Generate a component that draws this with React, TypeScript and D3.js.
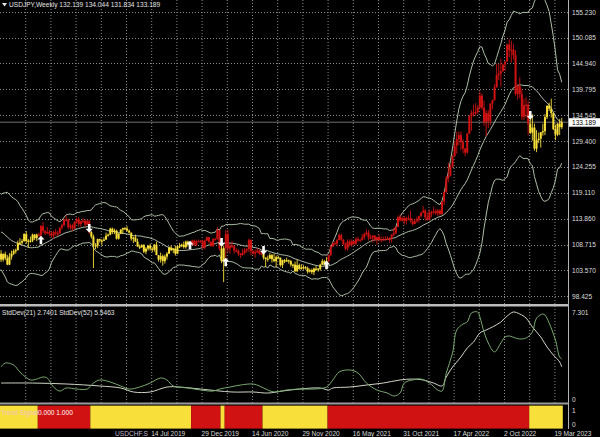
import React from 'react';
import * as d3 from 'd3';

// ---------------- DATA ----------------
// Weekly closes before the first visible bar (Oct 2017 – Feb 2018), used for the 21-period bands
const warmupCloses = [111.8, 113.5, 113.7, 114.1, 113.5, 112.1, 111.5, 112.2, 113.5, 112.6, 113.3, 112.7, 113.1, 111.0, 110.8, 108.6, 110.2, 108.8, 106.3, 106.9];

// First visible weekly bar: week of 25 Feb 2018; last: week of 9 Apr 2023
const firstWeek = '2018-02-25';
const firstOpen = 106.9;

const closes = [
  105.7, 106.8, 106.0, 104.7, 106.3, 106.9, 107.4, 107.6, 109.0, 109.1,
  109.4, 110.8, 109.4, 109.5, 109.5, 110.7, 110.0, 110.7, 110.5, 112.4,
  111.4, 111.0, 111.2, 110.9, 110.5, 111.2, 111.0, 111.0, 112.1, 112.6,
  113.7, 113.7, 112.2, 112.5, 111.9, 113.2, 113.8, 112.8, 113.4, 113.5,
  112.7, 113.4, 111.2, 110.3, 108.5, 108.5, 109.8, 109.5, 109.5, 109.7,
  110.5, 110.7, 111.9, 111.2, 111.5, 109.9, 110.9, 111.7, 112.0, 111.9,
  111.5, 111.1, 109.9, 110.1, 109.3, 108.3, 108.2, 108.6, 107.3, 107.9,
  108.5, 107.9, 107.7, 108.7, 106.6, 105.7, 106.4, 105.4, 106.3, 106.9,
  108.1, 107.6, 107.9, 106.9, 108.3, 108.4, 108.7, 108.2, 109.3, 108.8,
  108.7, 109.5, 108.6, 109.4, 109.4, 109.4, 108.1, 109.5, 110.2, 109.3,
  108.4, 109.8, 109.8, 111.6, 107.9, 105.4, 108.0, 110.8, 107.9, 108.5,
  108.5, 107.5, 107.5, 106.9, 106.6, 107.1, 107.6, 107.8, 109.6, 107.4,
  106.9, 107.2, 107.5, 106.9, 107.0, 106.1, 105.8, 105.9, 106.6, 105.8,
  105.4, 106.2, 106.1, 104.6, 105.6, 105.3, 105.6, 105.4, 104.7, 104.7,
  103.4, 104.6, 103.8, 104.1, 104.2, 104.0, 103.3, 103.6, 103.2, 103.9,
  103.9, 103.8, 104.7, 105.4, 104.9, 105.4, 106.6, 108.3, 109.0, 108.9,
  109.6, 110.6, 109.7, 108.8, 107.9, 109.3, 108.6, 109.4, 108.9, 109.8,
  109.5, 109.7, 110.2, 110.8, 111.1, 110.1, 110.1, 110.5, 109.7, 110.2,
  109.6, 109.8, 109.8, 109.7, 109.9, 109.9, 110.7, 111.0, 112.2, 114.2,
  113.5, 114.0, 113.4, 114.0, 114.0, 113.4, 112.8, 113.4, 113.7, 114.4,
  115.1, 115.5, 114.2, 113.7, 115.2, 115.2, 115.4, 115.0, 115.5, 114.8,
  117.3, 119.2, 122.0, 122.5, 124.3, 126.4, 128.5, 129.8, 130.6, 129.2,
  127.9, 127.1, 130.9, 134.4, 135.0, 135.2, 135.2, 136.1, 138.5, 136.1,
  133.2, 135.0, 133.4, 136.9, 137.6, 140.2, 142.6, 142.9, 143.4, 144.7,
  145.3, 148.7, 147.6, 147.7, 146.6, 138.8, 140.4, 138.8, 134.3, 136.6,
  136.7, 132.8, 131.1, 132.1, 127.9, 129.6, 129.9, 131.2, 131.4, 134.2,
  136.5, 135.9, 135.0, 131.8, 130.7, 132.9, 132.2, 133.189,
];

const highs = [
  107.6, 107.0, 107.3, 106.6, 107.0, 107.5, 107.8, 107.9, 109.5, 110.0,
  109.8, 111.0, 111.4, 109.8, 110.3, 110.9, 110.8, 110.9, 111.1, 112.6,
  113.2, 111.6, 112.2, 111.6, 111.4, 111.5, 111.8, 111.5, 112.2, 112.9,
  113.8, 114.6, 113.9, 112.9, 112.8, 113.4, 114.1, 114.2, 113.5, 114.0,
  113.8, 113.7, 113.7, 111.4, 110.7, 109.0, 109.9, 109.9, 109.8, 110.2,
  111.1, 110.9, 112.1, 112.1, 111.9, 111.7, 111.0, 111.8, 112.1, 112.2,
  112.4, 111.7, 111.1, 110.3, 110.7, 109.9, 108.7, 108.8, 108.8, 108.2,
  108.6, 108.9, 108.2, 108.8, 109.3, 106.6, 107.1, 106.7, 106.7, 107.2,
  108.3, 108.5, 108.0, 108.5, 108.6, 109.0, 108.9, 109.3, 109.5, 109.5,
  109.2, 109.7, 109.7, 109.7, 109.7, 109.6, 109.7, 109.7, 110.3, 110.2,
  109.3, 110.0, 110.1, 112.2, 111.6, 108.5, 108.5, 111.6, 111.7, 108.8,
  109.4, 108.4, 108.0, 107.7, 107.0, 107.8, 108.0, 108.0, 109.9, 109.8,
  107.6, 107.7, 108.0, 107.8, 107.4, 107.4, 106.2, 106.5, 107.0, 106.8,
  106.9, 106.5, 106.5, 106.1, 105.7, 105.8, 106.1, 105.7, 105.6, 104.9,
  105.3, 105.7, 104.9, 104.8, 104.6, 104.4, 104.3, 103.9, 103.9, 104.1,
  104.4, 104.0, 104.9, 105.8, 105.6, 106.2, 106.7, 108.6, 109.2, 109.4,
  109.9, 110.9, 110.9, 109.8, 109.1, 109.7, 109.7, 109.8, 109.5, 110.2,
  110.3, 109.8, 110.8, 111.1, 111.7, 111.6, 110.7, 110.6, 110.6, 110.3,
  110.8, 110.3, 110.3, 110.4, 110.4, 110.2, 110.8, 112.1, 112.3, 114.5,
  114.7, 114.3, 114.4, 114.3, 114.6, 115.5, 113.9, 113.9, 114.3, 114.5,
  115.2, 116.4, 115.8, 115.1, 115.7, 115.5, 116.3, 115.8, 115.8, 115.8,
  117.4, 119.4, 122.4, 125.1, 124.7, 126.7, 129.4, 131.3, 131.3, 131.3,
  129.8, 128.0, 131.0, 134.6, 135.6, 136.7, 137.0, 136.6, 139.4, 138.9,
  137.5, 135.6, 135.6, 137.0, 137.7, 140.8, 144.9, 144.9, 145.9, 144.9,
  145.4, 148.9, 149.8, 149.5, 148.8, 147.6, 140.8, 142.2, 139.9, 137.9,
  138.2, 137.5, 134.4, 134.8, 132.9, 131.6, 131.1, 131.2, 132.9, 134.8,
  136.5, 137.1, 137.9, 135.1, 132.7, 133.0, 133.8, 134.044,
];

const lows = [
  105.2, 105.3, 105.6, 104.6, 104.6, 105.7, 106.6, 106.9, 107.5, 108.6,
  108.7, 109.3, 108.9, 108.1, 109.1, 109.2, 109.6, 109.4, 110.3, 110.3,
  111.0, 110.6, 110.8, 110.4, 110.1, 109.8, 110.5, 110.4, 110.8, 111.7,
  112.4, 113.4, 111.8, 111.6, 111.4, 111.8, 112.9, 112.3, 112.3, 113.0,
  112.2, 112.6, 110.8, 109.9, 104.0, 107.8, 108.0, 109.1, 108.5, 109.4,
  109.7, 110.3, 110.6, 110.8, 110.8, 109.7, 109.7, 110.8, 110.8, 111.6,
  111.3, 110.9, 109.5, 109.0, 109.3, 108.3, 107.8, 108.0, 107.0, 106.8,
  107.5, 107.5, 107.2, 107.3, 106.6, 105.3, 105.1, 104.5, 104.9, 105.7,
  106.8, 107.4, 107.0, 106.5, 106.8, 108.0, 108.2, 107.9, 107.9, 108.3,
  108.2, 108.6, 108.4, 108.4, 109.2, 109.1, 107.9, 107.7, 109.4, 108.9,
  108.3, 108.3, 109.6, 109.7, 107.5, 105.0, 101.2, 105.1, 107.2, 106.9,
  108.0, 106.9, 107.2, 106.4, 106.0, 106.5, 106.7, 107.1, 107.2, 106.6,
  106.7, 106.1, 107.0, 106.6, 106.6, 105.7, 104.2, 105.3, 105.8, 105.1,
  105.2, 104.2, 105.8, 104.3, 104.0, 105.0, 105.3, 104.9, 104.3, 104.0,
  103.2, 103.2, 103.7, 103.7, 103.7, 103.7, 102.9, 103.1, 102.8, 102.6,
  103.5, 103.3, 103.5, 104.6, 104.5, 104.9, 105.2, 106.4, 108.2, 108.6,
  108.4, 109.6, 109.4, 108.6, 107.5, 107.5, 108.3, 108.3, 108.6, 108.6,
  109.3, 109.2, 109.5, 109.7, 110.5, 109.5, 109.8, 109.1, 109.4, 108.7,
  109.4, 109.1, 109.5, 109.6, 109.6, 109.1, 109.1, 110.4, 110.8, 112.2,
  113.4, 113.3, 112.7, 112.7, 113.6, 113.1, 112.5, 113.0, 113.1, 113.1,
  114.2, 115.0, 113.5, 113.5, 113.5, 114.2, 114.8, 114.6, 114.4, 114.6,
  114.7, 116.6, 119.0, 121.2, 122.3, 124.1, 126.4, 126.9, 128.6, 127.6,
  127.0, 126.4, 126.9, 130.8, 131.5, 134.3, 134.5, 134.8, 135.9, 135.6,
  132.5, 130.4, 132.0, 132.6, 135.8, 137.5, 140.1, 141.6, 140.3, 143.3,
  143.5, 145.3, 146.2, 145.1, 145.7, 138.5, 137.7, 138.0, 133.6, 133.6,
  134.0, 130.6, 130.8, 129.5, 127.5, 127.2, 129.0, 128.1, 130.5, 130.6,
  133.8, 135.4, 134.1, 131.6, 129.6, 130.4, 130.6, 131.834,
];

// Trend state (bar index where each colour segment starts)
const trendStarts = [0, 18, 43, 91, 105, 107, 125, 156, 252];
const trendStates = ['Y', 'R', 'Y', 'R', 'Y', 'R', 'Y', 'R', 'Y'];

// Signal arrows (bar index, direction, price level)
const arrowBars = [19, 42, 90, 105, 107, 125, 155, 252];
const arrowDirs = ['up', 'down', 'up', 'down', 'up', 'down', 'up', 'down'];
const arrowPrices = [109.6, 112.0, 108.6, 109.2, 105.2, 107.6, 104.6, 134.6];

// Price axis ticks
const priceTicks = [155.23, 150.085, 144.94, 139.795, 134.545, 129.4, 124.255, 119.11, 113.86, 108.715, 103.57, 98.425];
const lastPrice = 133.189;

// Time axis labels
const timeLabels = ['2019-07-14', '2019-12-29', '2020-06-14', '2020-11-29', '2021-05-16', '2021-10-31', '2022-04-17', '2022-10-02', '2023-03-19'];

// StdDev sub-window, bar index / value
const sdGreenIdx = [0, 2, 6, 9, 14, 17, 20, 22, 25, 28, 31, 36, 41, 44, 47, 52, 57, 61, 66, 71, 76, 79, 82, 89, 95, 101, 104, 109, 114, 120, 123, 127, 130, 136, 142, 149, 155, 158, 161, 166, 170, 174, 179, 184, 187, 190, 192, 196, 200, 204, 208, 210, 212, 215, 217, 220, 222, 224, 227, 228, 230, 232, 235, 238, 240, 242, 245, 247, 250, 253, 255, 258, 259, 261, 264, 266, 267];
const sdGreenVal = [2.63, 2.97, 2.8, 2.21, 1.53, 1.61, 1.78, 1.7, 0.93, 0.59, 0.85, 0.76, 0.76, 1.27, 1.53, 1.36, 1.02, 0.76, 0.93, 1.27, 1.7, 1.53, 1.02, 0.85, 0.68, 0.59, 0.76, 0.93, 1.1, 1.19, 1.02, 0.68, 0.51, 0.68, 0.76, 0.76, 0.93, 1.53, 2.21, 2.38, 2.12, 1.27, 0.68, 0.42, 0.17, 0.42, 1.27, 1.53, 1.61, 1.27, 0.68, 0.59, 2.12, 3.82, 5.77, 6.28, 6.45, 7.22, 7.3, 6.88, 5.6, 4.67, 3.91, 4.67, 5.18, 5.26, 5.09, 5.01, 5.09, 5.6, 6.79, 7.13, 7.05, 6.37, 4.92, 3.48, 3.31];
const sdWhiteIdx = [0, 15, 31, 47, 57, 63, 71, 79, 85, 95, 110, 120, 127, 134, 142, 152, 156, 158, 166, 174, 182, 190, 196, 201, 206, 210, 212, 215, 219, 222, 225, 228, 231, 234, 238, 241, 244, 247, 250, 253, 257, 260, 263, 266, 267];
const sdWhiteVal = [1.27, 1.27, 1.19, 1.02, 0.85, 0.51, 0.51, 0.93, 0.93, 0.76, 0.51, 0.51, 0.42, 0.59, 0.76, 0.85, 0.68, 0.85, 0.93, 1.1, 1.27, 1.53, 1.61, 1.53, 1.27, 1.02, 1.78, 2.63, 3.48, 4.25, 4.75, 5.52, 5.77, 6.03, 6.45, 6.96, 7.3, 7.13, 6.79, 6.03, 5.18, 4.33, 3.65, 3.06, 2.63];
const subMax = 7.301;

// ---------------- CHART ----------------
const FONT = "'Liberation Sans', Arial, sans-serif";
const RED = '#d01212';
const YELLOW = '#f8df3a';
const GRID = '#8a8a8a';
const BAND = '#aebfa6';

export default function App() {
  const plotW = 568;
  const step = 2.1;
  const barX = d3.scaleLinear().domain([0, plotW / step]).range([0, plotW]);
  const cx = (i: number) => barX(i) + step / 2;
  const yMain = d3.scaleLinear().domain([98.425, 155.23]).range([296, 12]);
  const ySub = d3.scaleLinear().domain([0, subMax]).range([398, 312]);
  const yBot = d3.scaleLinear().domain([0, 1]).range([428.6, 405.6]);

  const parse = d3.timeParse('%Y-%m-%d');
  const fmt = d3.timeFormat('%-d %b %Y');
  const start = parse(firstWeek) as Date;

  const stateAt = (i: number) => {
    let s = trendStates[0];
    for (let k = 0; k < trendStarts.length; k++) if (trendStarts[k] <= i) s = trendStates[k];
    return s;
  };

  const bars = closes.map((c, i) => {
    const o = i === 0 ? firstOpen : closes[i - 1];
    return { i, o, c, h: Math.max(highs[i], o, c), l: Math.min(lows[i], o, c), s: stateAt(i) };
  });

  const all = warmupCloses.concat(closes);
  const w0 = warmupCloses.length;
  const bb = closes.map((_, i) => {
    const win = all.slice(i + w0 - 20, i + w0 + 1);
    const m = d3.mean(win) as number;
    const sd = Math.sqrt(d3.mean(win, (v) => (v - m) * (v - m)) as number);
    return { i, m, up: m + 3 * sd, lo: m - 3 * sd };
  });

  const bandLine = (key: 'up' | 'm' | 'lo') =>
    d3.line<any>().x((d) => cx(d.i)).y((d) => yMain(d[key]))(bb) as string;

  const subLine = (idx: number[], val: number[]) =>
    d3.line<number>().x((d, k) => cx(idx[k])).y((d) => ySub(d)).curve(d3.curveCatmullRom.alpha(0.5))(val) as string;

  const gridIdx = d3.range(12, plotW / step, 12);

  // contiguous runs of the same trend state for the bottom histogram
  const runs: { a: number; b: number; s: string }[] = [];
  bars.forEach((bar) => {
    const last = runs[runs.length - 1];
    if (last && last.s === bar.s) last.b = bar.i;
    else runs.push({ a: bar.i, b: bar.i, s: bar.s });
  });

  const arrowPath = (x: number, y: number, dir: string) => {
    const s = dir === 'up' ? 1 : -1;
    const pts = [
      [x, y - 4.5 * s],
      [x + 3.6, y - 0.6 * s],
      [x + 1.3, y - 0.6 * s],
      [x + 1.3, y + 4.2 * s],
      [x - 1.3, y + 4.2 * s],
      [x - 1.3, y - 0.6 * s],
      [x - 3.6, y - 0.6 * s],
    ];
    return 'M' + pts.map((p) => p.join(',')).join('L') + 'Z';
  };

  const textStyle = { fontFamily: FONT, fontSize: 6.6 } as React.CSSProperties;

  return (
    <svg width={600} height={437} style={{ position: 'absolute', left: 0, top: 0, display: 'block', background: '#000' }}>
      <defs>
        <clipPath id="mainClip"><rect x={0} y={0} width={plotW} height={304} /></clipPath>
        <clipPath id="subClip"><rect x={0} y={307} width={plotW} height={95} /></clipPath>
      </defs>
      <rect x={0} y={0} width={600} height={437} fill="#000" />

      {/* vertical grid */}
      {gridIdx.map((g) => (
        <line key={'vg' + g} x1={barX(g) + 0.5} x2={barX(g) + 0.5} y1={0} y2={403} stroke={GRID} strokeWidth={1} strokeDasharray="1,2" />
      ))}
      {/* horizontal grid in main */}
      {priceTicks.map((t) => (
        <line key={'hg' + t} x1={0} x2={plotW} y1={Math.round(yMain(t)) + 0.5} y2={Math.round(yMain(t)) + 0.5} stroke={GRID} strokeWidth={1} strokeDasharray="1,2" />
      ))}

      {/* main chart */}
      <g clipPath="url(#mainClip)">
        <line x1={0} x2={plotW} y1={yMain(lastPrice)} y2={yMain(lastPrice)} stroke="#8c8c8c" strokeWidth={0.8} />
        <path d={bandLine('up')} fill="none" stroke={BAND} strokeWidth={1} />
        <path d={bandLine('m')} fill="none" stroke={BAND} strokeWidth={1} />
        <path d={bandLine('lo')} fill="none" stroke={BAND} strokeWidth={1} />
        {bars.map((b) => {
          const col = b.s === 'R' ? RED : YELLOW;
          const top = yMain(Math.max(b.o, b.c));
          const bot = yMain(Math.min(b.o, b.c));
          return (
            <g key={'b' + b.i}>
              <line x1={cx(b.i)} x2={cx(b.i)} y1={yMain(b.h)} y2={yMain(b.l)} stroke={col} strokeWidth={0.9} />
              <rect x={cx(b.i) - 1} y={top} width={2} height={Math.max(1.2, bot - top)} fill={col} />
            </g>
          );
        })}
        {arrowBars.map((a, k) => (
          <path key={'ar' + k} d={arrowPath(cx(a), yMain(arrowPrices[k]), arrowDirs[k])} fill="#ffffff" />
        ))}
      </g>

      {/* header */}
      <path d="M2,3 L7,3 L4.5,6.5 Z" fill="#e8e8e8" />
      <text x={9} y={7.4} fill="#e4e4e4" style={textStyle}>USDJPY,Weekly  132.139 134.044 131.834 133.189</text>

      {/* separators */}
      <rect x={0} y={304} width={plotW} height={2.5} fill="#bcbcbc" />
      <rect x={0} y={402.5} width={plotW} height={2} fill="#9a9a9a" />

      {/* sub window */}
      <g clipPath="url(#subClip)">
        <path d={subLine(sdWhiteIdx, sdWhiteVal)} fill="none" stroke="#cfd6c6" strokeWidth={1} />
        <path d={subLine(sdGreenIdx, sdGreenVal)} fill="none" stroke="#79a86f" strokeWidth={1} />
      </g>
      <text x={2} y={315} fill="#e4e4e4" style={textStyle}>StdDev(21) 2.7401  StdDev(52) 5.5463</text>

      {/* bottom panel (trend state histogram) */}
      {runs.map((r) => (
        <rect key={'bp' + r.a} x={barX(r.a)} y={yBot(1)} width={barX(r.b + 1) - barX(r.a)} height={yBot(0) - yBot(1)}
          fill={r.s === 'R' ? RED : YELLOW} />
      ))}
      <text x={1} y={415} fill="#f2c4c4" style={textStyle}>Trend Signal</text>
      <text x={38} y={415} fill="#ffffff" style={textStyle}>0.000 1.000</text>

      {/* right axis */}
      <line x1={plotW + 0.5} x2={plotW + 0.5} y1={0} y2={429} stroke="#b4b4b4" strokeWidth={1} />
      {priceTicks.map((t) => (
        <text key={'pt' + t} x={572} y={yMain(t)} dominantBaseline="central" fill="#dcdcdc" style={textStyle}>
          {t.toFixed(3)}
        </text>
      ))}
      <rect x={569} y={yMain(lastPrice) - 4} width={31} height={8.5} fill="#ffffff" />
      <text x={572} y={yMain(lastPrice) + 0.3} dominantBaseline="central" fill="#000" style={textStyle}>{lastPrice.toFixed(3)}</text>
      <text x={572} y={ySub(subMax)} dominantBaseline="central" fill="#dcdcdc" style={textStyle}>{subMax.toFixed(3)}</text>
      <text x={572} y={ySub(0) + 1.5} dominantBaseline="central" fill="#dcdcdc" style={textStyle}>0</text>
      <text x={572} y={yBot(1) + 4.5} dominantBaseline="central" fill="#dcdcdc" style={textStyle}>1</text>
      <text x={572} y={yBot(0) - 4.5} dominantBaseline="central" fill="#dcdcdc" style={textStyle}>0</text>

      {/* time axis */}
      <text x={115} y={436} fill="#c4b6d4" style={textStyle}>USDCHF.S</text>
      {timeLabels.map((d) => {
        const dt = parse(d) as Date;
        const idx = d3.timeWeek.count(start, dt);
        return (
          <text key={d} x={barX(idx)} y={436} fill="#d8d8d8" style={textStyle}>{fmt(dt)}</text>
        );
      })}
    </svg>
  );
}
